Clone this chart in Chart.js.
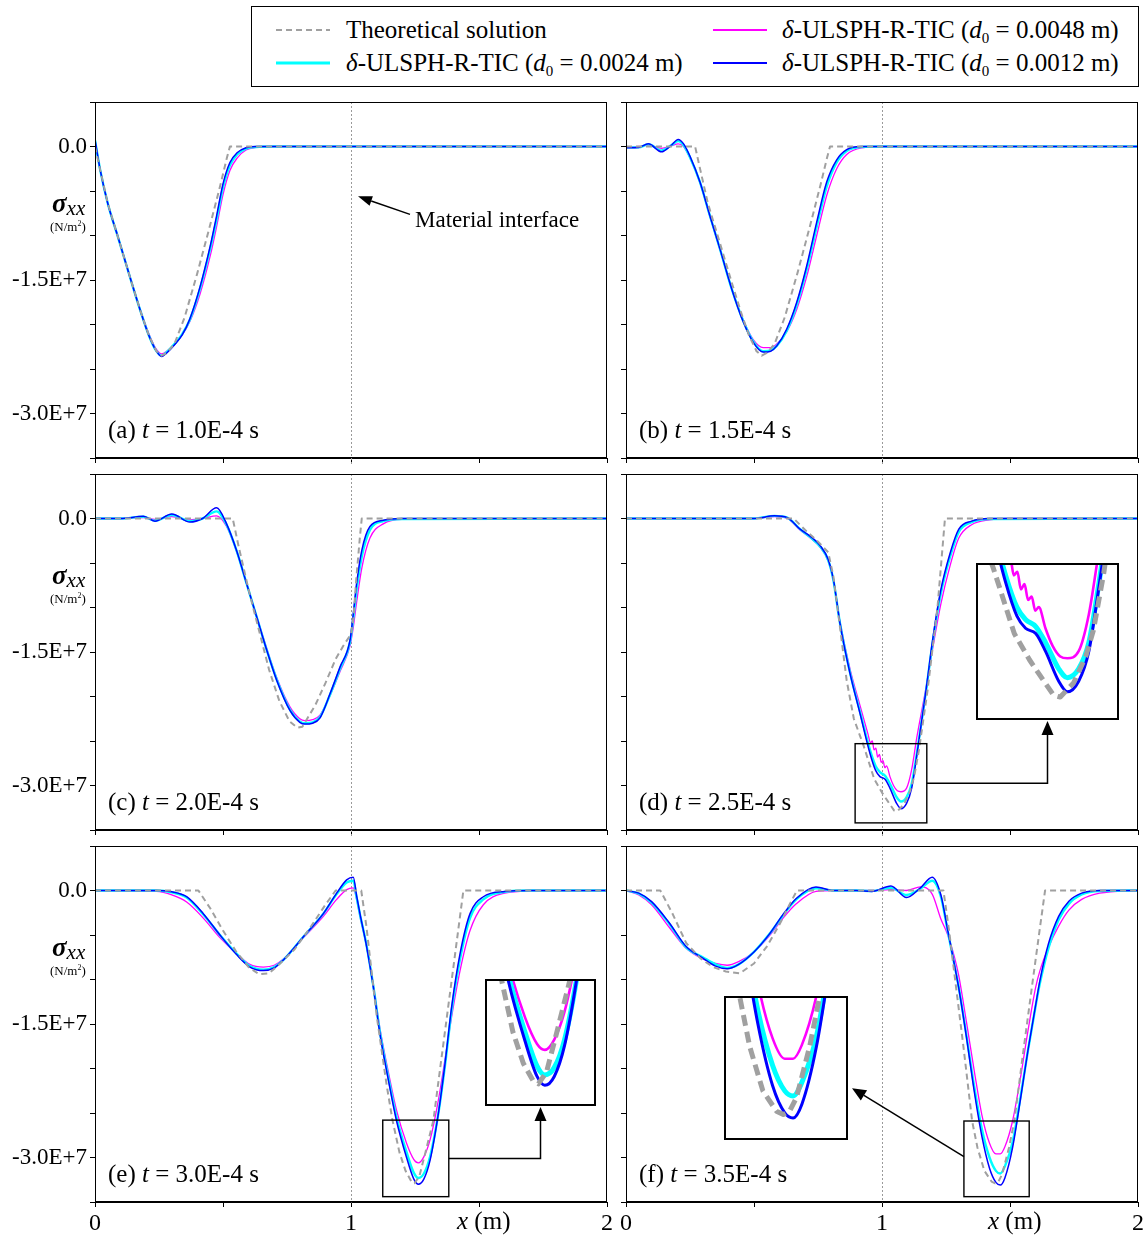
<!DOCTYPE html>
<html><head><meta charset="utf-8">
<script src="https://cdn.jsdelivr.net/npm/chart.js@4.4.1/dist/chart.umd.min.js"></script>
<style>
html,body{margin:0;padding:0;background:#fff;}
body{width:1148px;height:1236px;position:relative;overflow:hidden;font-family:"Liberation Serif","Times New Roman",serif;color:#000;}
canvas{position:absolute;}
.t{position:absolute;white-space:nowrap;line-height:1;color:#000;z-index:20;}
.sub{font-size:15px;vertical-align:-5px;font-style:normal;}
</style></head><body>
<script>
// ---------------- DATA (stress values in units of 1E+6 N/m^2, x in m) ----------------
const seriesNames = ['Theoretical solution','δ-ULSPH-R-TIC (d0 = 0.0048 m)','δ-ULSPH-R-TIC (d0 = 0.0024 m)','δ-ULSPH-R-TIC (d0 = 0.0012 m)'];
const panelLabels = ['(a)','(b)','(c)','(d)','(e)','(f)'];
const panelTimes = ['1.0E-4','1.5E-4','2.0E-4','2.5E-4','3.0E-4','3.5E-4'];
const xTickLabels = ['0','1','2'];
const yTickLabels = {'0':'0.0','-15':'-1.5E+7','-30':'-3.0E+7'};

// (a) t = 1.0E-4 s
const xA   = [0,0.02,0.05,0.09,0.14,0.18,0.21,0.24,0.26,0.28,0.31,0.34,0.37,0.41,0.45,0.475,0.50,0.527,0.555,0.59,0.63,0.70,1.0,2.0];
const b12A = [0.8,-2.6,-6.4,-10.2,-15.0,-18.7,-21.2,-23.0,-23.6,-23.2,-22.3,-21.2,-19.4,-15.8,-11.2,-7.8,-4.2,-1.8,-0.7,-0.15,0,0,0,0];
const c24A = [0.7,-2.6,-6.4,-10.2,-15.0,-18.7,-21.2,-23.0,-23.5,-23.1,-22.2,-21.1,-19.5,-16.0,-11.5,-8.2,-4.6,-2.1,-0.9,-0.25,-0.05,0,0,0];
const m48A = [0.5,-2.6,-6.4,-10.1,-14.9,-18.6,-21.0,-22.8,-23.3,-23.0,-22.2,-21.2,-19.7,-16.6,-12.3,-9.0,-5.4,-2.7,-1.3,-0.4,-0.1,0,0,0];
const xtA  = [0,0.02,0.05,0.09,0.14,0.18,0.21,0.24,0.26,0.28,0.31,0.35,0.40,0.45,0.49,0.515,0.527,2.0];
const vtA  = [0,-2.6,-6.4,-10.2,-15.0,-18.7,-21.2,-23.0,-23.5,-23.2,-22.2,-19.2,-14.2,-8.8,-4.3,-1.3,0,0];

// (b) t = 1.5E-4 s
const xB   = [0,0.05,0.087,0.139,0.175,0.204,0.225,0.25,0.289,0.328,0.367,0.413,0.458,0.497,0.536,0.565,0.589,0.628,0.667,0.706,0.745,0.784,0.823,0.862,0.92,1.0,2.0];
const b12B = [-0.15,-0.1,0.3,-0.6,0.1,0.8,0.3,-1.1,-4.0,-7.8,-11.5,-16.0,-19.7,-22.0,-23.1,-23.0,-22.4,-20.5,-17.5,-13.4,-8.5,-4.0,-1.5,-0.35,0,0,0];
const c24B = [-0.1,-0.1,0.25,-0.45,0.1,0.6,0.15,-1.2,-4.0,-7.8,-11.5,-16.0,-19.6,-21.9,-23.0,-22.9,-22.4,-20.7,-17.8,-13.8,-9.0,-4.5,-1.8,-0.5,-0.05,0,0];
const m48B = [-0.05,0,0.15,-0.2,0.05,0.3,0.0,-1.3,-4.1,-7.9,-11.6,-16.0,-19.5,-21.7,-22.6,-22.6,-22.2,-20.8,-18.3,-14.6,-10.0,-5.5,-2.5,-0.9,-0.15,0,0];
const xtB  = [0,0.27,0.29,0.32,0.36,0.41,0.45,0.48,0.51,0.53,0.55,0.58,0.62,0.67,0.72,0.76,0.785,0.797,2.0];
const vtB  = [0,0,-2.6,-6.4,-10.2,-15.0,-18.7,-21.2,-23.0,-23.5,-23.2,-22.2,-19.2,-14.2,-8.8,-4.3,-1.3,0,0];

// (c) t = 2.0E-4 s
const xC   = [0,0.1,0.189,0.234,0.30,0.371,0.42,0.475,0.514,0.553,0.592,0.632,0.671,0.71,0.762,0.80,0.82,0.85,0.879,0.918,0.957,0.996,1.009,1.022,1.042,1.074,1.126,1.2,2.0];
const b12C = [0,0,0.25,-0.3,0.5,-0.4,0.0,1.2,-0.6,-3.6,-7.3,-11.1,-14.8,-18.2,-21.6,-22.9,-23.1,-23.0,-22.4,-19.7,-16.7,-13.7,-10.7,-7.3,-3.6,-0.9,-0.2,0,0];
const c24C = [0,0,0.2,-0.25,0.4,-0.3,0.0,0.8,-0.7,-3.6,-7.3,-11.1,-14.8,-18.1,-21.5,-22.8,-23.0,-22.9,-22.3,-19.8,-16.9,-13.9,-11.2,-8.0,-4.3,-1.3,-0.3,-0.05,0];
const m48C = [0,0,0.1,-0.1,0.2,-0.15,0.0,0.3,-0.9,-3.7,-7.3,-11.0,-14.6,-17.9,-21.2,-22.5,-22.7,-22.6,-22.1,-19.9,-17.2,-14.3,-12.2,-9.4,-5.6,-2.2,-0.6,-0.1,0];
const xtC  = [0,0.538,0.56,0.60,0.64,0.68,0.72,0.76,0.79,0.81,0.86,0.90,0.94,0.97,1.0,1.01,1.02,1.035,1.042,2.0];
const vtC  = [0,0,-3.0,-8.0,-12.5,-17.0,-20.5,-22.8,-23.5,-23.4,-21.0,-18.5,-15.8,-14.3,-13.0,-11.0,-7.0,-2.0,0,0];

// (d) t = 2.5E-4 s
const xD   = [0,0.5,0.58,0.63,0.68,0.72,0.76,0.79,0.81,0.836,0.875,0.914,0.953,0.975,0.992,1.012,1.031,1.057,1.074,1.096,1.116,1.136,1.172,1.198,1.23,1.266,1.30,1.35,1.42,2.0];
const b12D = [0,0,0.3,0.1,-1.2,-2.0,-3.1,-4.6,-6.8,-11.8,-17.4,-21.9,-26.4,-28.3,-29.0,-29.3,-30.3,-32.0,-32.6,-32.0,-30.3,-26.6,-19.3,-13.6,-8.0,-3.9,-1.2,-0.3,0,0];
const c24D = [0,0,0.3,0.1,-1.2,-2.1,-3.2,-4.7,-6.9,-11.8,-17.3,-21.7,-26.0,-27.8,-28.5,-28.9,-29.8,-31.3,-31.8,-31.3,-29.8,-26.4,-19.4,-13.9,-8.4,-4.3,-1.5,-0.4,-0.05,0];
const xDm  = [0,0.5,0.58,0.63,0.68,0.72,0.76,0.79,0.81,0.836,0.875,0.914,0.945,0.955,0.962,0.969,0.976,0.983,0.990,0.997,1.004,1.011,1.018,1.031,1.045,1.06,1.074,1.096,1.116,1.136,1.172,1.198,1.23,1.266,1.30,1.35,1.42,1.5,2.0];
const m48D = [0,0,0.2,0.0,-1.3,-2.2,-3.3,-4.8,-7.0,-11.6,-16.9,-21.0,-24.2,-25.2,-25.0,-26.0,-25.8,-26.8,-26.5,-27.4,-27.2,-28.0,-27.8,-29.0,-30.0,-30.6,-30.7,-30.3,-28.2,-24.6,-19.0,-14.6,-9.6,-5.3,-2.2,-0.7,-0.15,0,0];
const xtD  = [0,0.655,0.70,0.75,0.79,0.81,0.835,0.862,0.89,0.929,0.97,1.0,1.021,1.047,1.06,1.086,1.11,1.125,1.145,1.178,1.217,1.246,2.0];
const vtD  = [0,0,-1.3,-2.6,-3.8,-6.5,-12.0,-18.2,-22.5,-25.6,-29.3,-30.8,-31.7,-32.8,-32.9,-32.1,-30.6,-29.1,-25.9,-19.3,-9.9,0,0];

// (e) t = 3.0E-4 s
const xE   = [0,0.24,0.30,0.358,0.423,0.488,0.553,0.605,0.658,0.70,0.736,0.814,0.892,0.944,0.983,1.009,1.022,1.035,1.061,1.087,1.113,1.146,1.178,1.217,1.245,1.263,1.285,1.309,1.341,1.367,1.393,1.426,1.465,1.517,1.6,1.7,2.0];
const b12E = [0,0,-0.15,-0.7,-2.6,-5.0,-7.2,-8.6,-9.0,-8.7,-7.8,-5.2,-2.6,-0.3,1.2,1.5,-0.6,-2.6,-6.3,-10.8,-16.1,-21.3,-25.9,-30.0,-32.4,-33.0,-32.4,-30.3,-25.1,-19.5,-13.1,-7.1,-2.6,-0.7,-0.1,0,0];
const c24E = [0,0,-0.2,-0.8,-2.7,-5.0,-7.1,-8.5,-8.9,-8.6,-7.8,-5.2,-2.6,-0.4,0.9,1.1,-0.8,-2.7,-6.2,-10.7,-15.9,-21.0,-25.5,-29.4,-31.7,-32.3,-31.8,-29.9,-25.1,-19.7,-13.5,-7.7,-3.1,-1.0,-0.15,0,0];
const m48E = [0,-0.1,-0.5,-1.3,-3.1,-5.3,-7.1,-8.3,-8.6,-8.4,-7.7,-5.3,-2.9,-1.0,0.1,0.3,-1.0,-2.9,-6.3,-10.5,-15.5,-20.4,-24.7,-28.4,-30.2,-30.6,-29.9,-28.0,-23.6,-19.0,-14.2,-9.0,-4.5,-1.6,-0.3,-0.05,0];
const xtE  = [0,0.404,0.45,0.50,0.55,0.60,0.64,0.68,0.72,0.78,0.84,0.90,0.94,1.04,1.06,1.10,1.14,1.162,1.189,1.213,1.236,1.248,1.267,1.291,1.322,1.35,1.40,1.439,2.0];
const vtE  = [0,0,-2.0,-4.5,-6.8,-8.6,-9.4,-9.3,-8.3,-6.6,-4.2,-1.6,0,0,-4.0,-14.0,-22.0,-25.8,-29.4,-31.5,-32.7,-32.9,-32.1,-29.4,-25.8,-19.6,-8.6,0,0];

// (f) t = 3.5E-4 s
const xF   = [0,0.05,0.10,0.168,0.235,0.30,0.35,0.395,0.44,0.50,0.56,0.611,0.665,0.742,0.81,0.90,0.96,1.035,1.096,1.15,1.196,1.23,1.257,1.284,1.30,1.33,1.36,1.39,1.42,1.445,1.462,1.48,1.51,1.54,1.57,1.60,1.617,1.65,1.69,1.73,1.78,1.85,2.0];
const b12F = [0,-0.3,-1.25,-3.6,-6.3,-7.6,-8.5,-8.8,-8.3,-6.9,-4.9,-2.8,-0.9,0.4,0.0,0.0,-0.1,0.5,-0.8,0.3,1.5,-0.5,-4.5,-8.5,-11.0,-16.5,-22.5,-27.6,-31.2,-32.8,-33.1,-32.3,-28.9,-23.6,-18.0,-12.9,-10.1,-6.0,-2.9,-1.2,-0.3,0,0];
const c24F = [0,-0.35,-1.35,-3.7,-6.4,-7.5,-8.3,-8.7,-8.3,-6.9,-4.9,-2.9,-1.0,0.25,0.0,0.0,-0.05,0.3,-0.5,0.2,1.1,-0.7,-4.6,-8.5,-10.9,-16.3,-22.0,-26.8,-30.0,-31.5,-31.8,-31.0,-28.3,-23.4,-18.0,-13.0,-10.4,-6.5,-3.3,-1.5,-0.45,-0.05,0];
const m48F = [0,-0.5,-1.6,-4.1,-6.5,-7.7,-8.2,-8.4,-8.0,-6.9,-5.1,-3.2,-1.5,-0.1,0.0,0.0,0.0,0.1,0.0,0.4,-0.4,-3.2,-5.0,-7.6,-9.6,-14.8,-20.2,-25.2,-28.4,-29.6,-29.6,-28.8,-25.9,-21.2,-15.8,-10.9,-9.0,-6.4,-4.0,-2.2,-1.0,-0.3,0];
const xtF  = [0,0.134,0.18,0.235,0.29,0.34,0.39,0.445,0.50,0.55,0.60,0.64,0.668,1.24,1.262,1.286,1.32,1.352,1.373,1.40,1.428,1.442,1.455,1.469,1.496,1.517,1.55,1.589,1.615,1.637,2.0];
const vtF  = [0,0,-2.5,-5.9,-7.6,-8.6,-9.1,-9.3,-8.2,-6.3,-3.8,-1.5,0,0,-4.5,-10.1,-18.0,-25.9,-28.9,-31.5,-32.7,-32.9,-32.7,-31.9,-28.9,-25.9,-18.5,-10.1,-4.6,0,0];

// zoom windows (data ranges) for the enlarged views of panels d, e, f
const zoomXD = [0.895,1.175], zoomYD = [-34.2,-25.3];
const zoomXE = [1.124,1.382], zoomYE = [-34.4,-25.8];
const zoomXF = [1.320,1.575], zoomYF = [-34.4,-25.9];

// ---------------- LAYOUT ----------------
const ROW_TOP=[102,474,846], COL_LEFT=[95,626], PW=512, PH=356;
const GRAY='#a0a0a0', MAG='#ff00ff', CYA='#00ffff', BLU='#0000ff';
const FONT='"Liberation Serif", "Times New Roman", serif';

const PANELS=[
 {col:0,row:0,xs:xA,xm:xA,b:b12A,c:c24A,m:m48A,xt:xtA,vt:vtA},
 {col:1,row:0,xs:xB,xm:xB,b:b12B,c:c24B,m:m48B,xt:xtB,vt:vtB},
 {col:0,row:1,xs:xC,xm:xC,b:b12C,c:c24C,m:m48C,xt:xtC,vt:vtC},
 {col:1,row:1,xs:xD,xm:xDm,b:b12D,c:c24D,m:m48D,xt:xtD,vt:vtD,zx:zoomXD,zy:zoomYD,inset:{left:976,top:563,w:143,h:157},conn:'up'},
 {col:0,row:2,xs:xE,xm:xE,b:b12E,c:c24E,m:m48E,xt:xtE,vt:vtE,zx:zoomXE,zy:zoomYE,inset:{left:485,top:979,w:111,h:127},conn:'up'},
 {col:1,row:2,xs:xF,xm:xF,b:b12F,c:c24F,m:m48F,xt:xtF,vt:vtF,zx:zoomXF,zy:zoomYF,inset:{left:724,top:996,w:124,h:144},conn:'diag'}
];

function pts(xs,vs){return xs.map((x,i)=>({x:x,y:vs[i]*1e6}));}
function ds(xs,vs,color,w,dash,smooth){
  return {data:pts(xs,vs),borderColor:color,borderWidth:w,borderDash:dash||[],pointRadius:0,pointHoverRadius:0,fill:false,
    tension:0,cubicInterpolationMode:smooth?'monotone':'default',borderCapStyle:'butt',borderJoinStyle:'round'};
}
function datasets(p,inset){
  const k=inset?[5,3,5,2.6,[11,6]]:[2,1.5,2.4,1.3,[6,4]];
  return [
    ds(p.xt,p.vt,GRAY,k[0],k[4],false),
    ds(p.xs,p.b,BLU,k[1],null,true),
    ds(p.xs,p.c,CYA,k[2],null,true),
    ds(p.xm,p.m,MAG,k[3],null,true)
  ];
}
const base={responsive:false,maintainAspectRatio:false,devicePixelRatio:1,animation:false,events:[],
  plugins:{legend:{display:false},tooltip:{enabled:false}},elements:{line:{capBezierPoints:false}}};

function addCanvas(left,top,w,h,z){
  const cv=document.createElement('canvas');
  cv.width=w;cv.height=h;cv.style.left=left+'px';cv.style.top=top+'px';
  cv.style.width=w+'px';cv.style.height=h+'px';cv.style.zIndex=z;
  document.body.appendChild(cv);return cv;
}
function fixPad(s){s.paddingTop=0;s.paddingBottom=0;s.paddingLeft=0;s.paddingRight=0;}

const mains=[];
PANELS.forEach((p,idx)=>{
  const PL=COL_LEFT[p.col], PT=ROW_TOP[p.row];
  const padL=p.col?20:95, padT=6, padR=14, padB=p.row===2?44:12;
  const W=padL+PW+padR, H=padT+PH+padB;
  const cv=addCanvas(PL-padL,PT-padT,W,H,1);
  const bottom=p.row===2, left=p.col===0;
  const deco={id:'deco'+idx,
    beforeDatasetsDraw(c){const ctx=c.ctx,a=c.chartArea,x=Math.round(c.scales.x.getPixelForValue(1))+0.5;
      ctx.save();ctx.strokeStyle='#9a9a9a';ctx.lineWidth=1;ctx.setLineDash([2,2]);
      ctx.beginPath();ctx.moveTo(x,a.top);ctx.lineTo(x,a.bottom+(bottom?0:8));ctx.stroke();ctx.restore();},
    afterDatasetsDraw(c){ if(!p.zx) return; const ctx=c.ctx,sx=c.scales.x,sy=c.scales.y;
      const x0=sx.getPixelForValue(p.zx[0]),x1=sx.getPixelForValue(p.zx[1]);
      const y0=sy.getPixelForValue(p.zy[1]*1e6),y1=sy.getPixelForValue(p.zy[0]*1e6);
      ctx.save();ctx.strokeStyle='#000';ctx.lineWidth=1.4;ctx.strokeRect(x0,y0,x1-x0,y1-y0);ctx.restore();},
    afterDraw(c){const ctx=c.ctx,a=c.chartArea;ctx.save();ctx.strokeStyle='#000';ctx.lineWidth=1;
      ctx.strokeRect(Math.round(a.left)+0.5,Math.round(a.top)+0.5,Math.round(a.right-a.left)-1,Math.round(a.bottom-a.top)-1);ctx.restore();}
  };
  const chart=new Chart(cv,{type:'line',data:{datasets:datasets(p,false)},
    options:Object.assign({},base,{layout:{padding:{left:0,top:padT,right:padR,bottom:0}},
      scales:{
        x:{type:'linear',min:0,max:2,afterFit:s=>{s.height=padB;fixPad(s);},
           ticks:{stepSize:0.5,autoSkip:false,maxRotation:0,minRotation:0,padding:2,color:'#000',font:{family:FONT,size:24},
             callback:v=>{if(!bottom)return '';const r=Math.round(v);return Math.abs(v-r)<1e-9?xTickLabels[r]:'';}},
           grid:{drawOnChartArea:false,drawTicks:true,tickLength:5,color:'#000',lineWidth:1},
           border:{display:true,color:'#000',width:1}},
        y:{type:'linear',min:-35e6,max:5e6,afterFit:s=>{s.width=padL;fixPad(s);},
           ticks:{stepSize:5e6,autoSkip:false,padding:3,color:'#000',font:{family:FONT,size:23},
             callback:v=>{if(!left)return '';const k=String(Math.round(v/1e6));return yTickLabels[k]||'';}},
           grid:{drawOnChartArea:false,drawTicks:true,tickLength:5,color:'#000',lineWidth:1},
           border:{display:true,color:'#000',width:1}}
      }}),plugins:[deco]});
  mains.push({chart,cv,p,PL,PT});
});

// insets (enlarged views)
const insets=[];
mains.forEach((mm,idx)=>{
  const p=mm.p; if(!p.inset) return;
  const r=p.inset; const cv=addCanvas(r.left,r.top,r.w,r.h,5);
  const deco={id:'ins'+idx,
    beforeDraw(c){const ctx=c.ctx;ctx.save();ctx.fillStyle='#fff';ctx.fillRect(0,0,c.width,c.height);ctx.restore();},
    afterDraw(c){const ctx=c.ctx;ctx.save();ctx.strokeStyle='#000';ctx.lineWidth=2;ctx.strokeRect(1,1,c.width-2,c.height-2);ctx.restore();}};
  const chart=new Chart(cv,{type:'line',data:{datasets:datasets(p,true)},
    options:Object.assign({},base,{layout:{padding:0},
      scales:{x:{type:'linear',display:false,min:p.zx[0],max:p.zx[1]},
              y:{type:'linear',display:false,min:p.zy[0]*1e6,max:p.zy[1]*1e6}}}),plugins:[deco]});
  insets.push({chart,cv,p,main:mm,r});
});

// ---------------- TEXT ----------------
function txt(html,left,top,size,extra){const d=document.createElement('div');d.className='t';d.innerHTML=html;
  d.style.left=left+'px';d.style.top=top+'px';d.style.fontSize=size+'px';if(extra)d.style.cssText+=extra;document.body.appendChild(d);return d;}
PANELS.forEach((p,i)=>{
  const PL=COL_LEFT[p.col],PT=ROW_TOP[p.row];
  txt(panelLabels[i]+' <i>t</i> = '+panelTimes[i]+' s',PL+13,PT+315,25);
  if(p.col===0){
    txt('<b><i>σ</i></b><i style="font-size:21px;position:relative;top:3px">xx</i>',52,PT+88,27);
    txt('(N/m<sup style="font-size:8px;vertical-align:5px">2</sup>)',50,PT+118,13);
  }
  if(p.row===2) txt('<i>x</i> (m)',PL+362,1208,25);
});
txt('Material interface',415,208,23);

// legend
const lg=document.createElement('div');
lg.style.cssText='position:absolute;left:251px;top:6px;width:886px;height:79px;border:1.2px solid #000;background:#fff;z-index:10;';
document.body.appendChild(lg);
const svgNS='http://www.w3.org/2000/svg';
const svg=document.createElementNS(svgNS,'svg');svg.setAttribute('width','1148');svg.setAttribute('height','100');
svg.style.cssText='position:absolute;left:0;top:0;z-index:15;';
[[276,330,30,GRAY,2,'6 4'],[713,767,30,MAG,2,''],[276,330,63,CYA,3,''],[713,767,63,BLU,2,'']].forEach(a=>{
  const l=document.createElementNS(svgNS,'line');l.setAttribute('x1',a[0]);l.setAttribute('x2',a[1]);l.setAttribute('y1',a[2]);l.setAttribute('y2',a[2]);
  l.setAttribute('stroke',a[3]);l.setAttribute('stroke-width',a[4]);if(a[5])l.setAttribute('stroke-dasharray',a[5]);svg.appendChild(l);});
document.body.appendChild(svg);
function legText(s){return s.replace('δ','<i>δ</i>').replace('d0','<i>d</i><span class="sub">0</span>');}
txt(seriesNames[0],346,17,25);
txt(legText(seriesNames[1]),782,17,25);
txt(legText(seriesNames[2]),346,50,25);
txt(legText(seriesNames[3]),782,50,25);

// ---------------- ARROWS / CONNECTORS ----------------
const ov=addCanvas(0,0,1148,1236,8); ov.style.pointerEvents='none';
const octx=ov.getContext('2d');
function arrow(x1,y1,x2,y2,len,hw,lw){
  const a=Math.atan2(y2-y1,x2-x1),bx=x2-len*Math.cos(a),by=y2-len*Math.sin(a);
  octx.lineWidth=lw;octx.strokeStyle='#000';octx.fillStyle='#000';
  octx.beginPath();octx.moveTo(x1,y1);octx.lineTo(bx,by);octx.stroke();
  octx.beginPath();octx.moveTo(x2,y2);octx.lineTo(bx+hw*Math.sin(a),by-hw*Math.cos(a));octx.lineTo(bx-hw*Math.sin(a),by+hw*Math.cos(a));octx.closePath();octx.fill();
}
function pagePix(mm,x,v){const c=mm.chart;return [mm.cv.offsetLeft+c.scales.x.getPixelForValue(x), mm.cv.offsetTop+c.scales.y.getPixelForValue(v*1e6)];}
insets.forEach(ins=>{
  const p=ins.p,mm=ins.main,r=ins.r;
  const tl=pagePix(mm,p.zx[0],p.zy[1]), br=pagePix(mm,p.zx[1],p.zy[0]);
  const midY=(tl[1]+br[1])/2;
  if(p.conn==='up'){
    const cx=r.left+r.w/2;
    octx.lineWidth=1.5;octx.strokeStyle='#000';
    octx.beginPath();octx.moveTo(br[0],midY);octx.lineTo(cx,midY);octx.lineTo(cx,r.top+r.h+14);octx.stroke();
    arrow(cx,r.top+r.h+14,cx,r.top+r.h+1,14,6,1.5);
  } else {
    const sy=tl[1]+0.47*(br[1]-tl[1]);
    arrow(tl[0],sy,r.left+r.w+4,r.top+0.64*r.h,14,6,1.5);
  }
});
// material interface pointer
const ma=pagePix(mains[0],1,-5.6);
arrow(ma[0]+59,ma[1]+18,ma[0]+7,ma[1],14,5,1.5);
</script>
</body></html>
